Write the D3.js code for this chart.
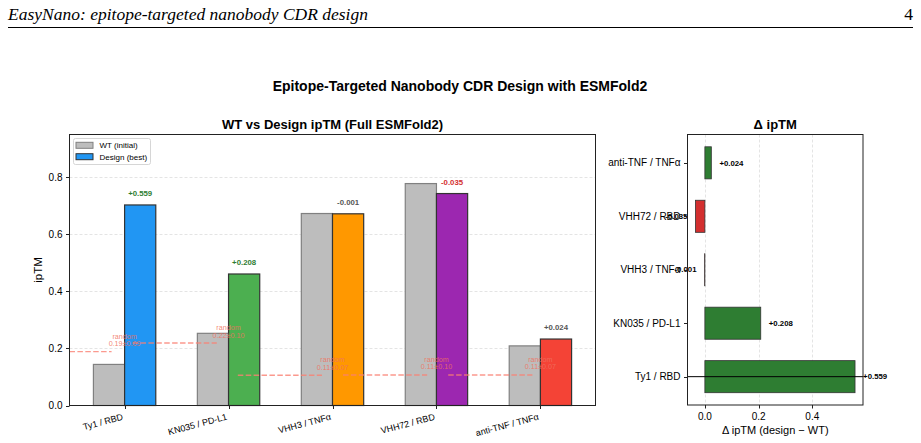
<!DOCTYPE html>
<html>
<head>
    <meta charset="utf-8">
    <style>
        body { margin: 0; background: white; }
        svg { display: block; font-family: 'Liberation Sans', Arial, sans-serif; }
    </style>
</head>
<body>
<svg width="921" height="443"></svg>

<script src="https://d3js.org/d3.v7.min.js"></script>
<script>
    // chart values
    const pairs = ["Ty1 / RBD", "KN035 / PD-L1", "VHH3 / TNFα", "VHH72 / RBD", "anti-TNF / TNFα"];
    const wtIptm = [0.144, 0.253, 0.673, 0.778, 0.209];
    const designIptm = [0.703, 0.461, 0.672, 0.743, 0.233];
    const randomMean = [0.189, 0.219, 0.106, 0.107, 0.107];
    const randomStd = [0.09, 0.10, 0.07, 0.10, 0.07];
    const designColors = ["#2196F3", "#4CAF50", "#FF9800", "#9C27B0", "#F44336"];
    const yTicks = [0.0, 0.2, 0.4, 0.6, 0.8];
    const deltaTicks = [0.0, 0.2, 0.4];

    const deltas = designIptm.map((d, i) => d - wtIptm[i]);

    let svg = d3.select("svg");

    // page header
    svg.append("text")
        .attr("x", 8).attr("y", 20)
        .style("font-family", "'Liberation Serif', serif")
        .style("font-style", "italic")
        .style("font-size", "17.5px")
        .text("EasyNano: epitope-targeted nanobody CDR design");
    svg.append("text")
        .attr("x", 913).attr("y", 20)
        .attr("text-anchor", "end")
        .style("font-family", "'Liberation Serif', serif")
        .style("font-size", "17.5px")
        .text("4");
    svg.append("line")
        .attr("x1", 8).attr("x2", 913)
        .attr("y1", 27.5).attr("y2", 27.5)
        .style("stroke", "black").style("stroke-width", 1);

    svg.append("text")
        .attr("x", 460).attr("y", 91)
        .attr("text-anchor", "middle")
        .style("font-weight", "bold").style("font-size", "14px")
        .text("Epitope-Targeted Nanobody CDR Design with ESMFold2");

    // ---------- left panel: WT vs design ----------
    const L = { left: 69.5, right: 595.5, top: 134.5, bottom: 405.5 };
    const barW = 0.3;
    let x = d3.scaleLinear()
        .domain([-barW - 0.23, pairs.length - 1 + barW + 0.23])
        .range([L.left, L.right]);
    let y = d3.scaleLinear().domain([0, 0.95]).range([L.bottom, L.top]);
    // axhline xmin/xmax are in axes fraction
    let frac = d3.scaleLinear().domain([0, 1]).range([L.left, L.right]);

    let left = svg.append("g");

    left.selectAll(".hgrid")
        .data(yTicks.slice(1))
        .join("line")
        .attr("x1", L.left).attr("x2", L.right)
        .attr("y1", d => Math.round(y(d)) + 0.5).attr("y2", d => Math.round(y(d)) + 0.5)
        .style("stroke", "#ddd").style("stroke-dasharray", "3,2").style("stroke-width", 0.8);

    left.selectAll(".wt")
        .data(wtIptm)
        .join("rect")
        .attr("x", (d, i) => x(i - barW))
        .attr("width", x(barW) - x(0))
        .attr("y", d => y(d))
        .attr("height", d => y(0) - y(d))
        .style("fill", "#bdbdbd")
        .style("stroke", "#808080")
        .style("stroke-width", 1.2);

    left.selectAll(".design")
        .data(designIptm)
        .join("rect")
        .attr("x", (d, i) => x(i))
        .attr("width", x(barW) - x(0))
        .attr("y", d => y(d))
        .attr("height", d => y(0) - y(d))
        .style("fill", (d, i) => designColors[i])
        .style("stroke", "#333")
        .style("stroke-width", 1.2);

    function deltaColor(d) {
        if (d > 0.05) return "#2e7d32";
        if (d < -0.02) return "#d32f2f";
        return "#555";
    }

    left.selectAll(".dlabel")
        .data(deltas)
        .join("text")
        .attr("x", (d, i) => x(i + barW / 2))
        .attr("y", (d, i) => y(designIptm[i]) - 9)
        .attr("text-anchor", "middle")
        .style("font-size", "7.8px").style("font-weight", "bold")
        .style("fill", d => deltaColor(d))
        .text(d => (d >= 0 ? "+" : "-") + Math.abs(d).toFixed(3));

    // random baselines
    left.selectAll(".rand")
        .data(randomMean)
        .join("line")
        .attr("x1", (d, i) => frac(Math.max(0, (i - 0.4) / pairs.length)))
        .attr("x2", (d, i) => frac((i + 0.4) / pairs.length))
        .attr("y1", d => y(d)).attr("y2", d => y(d))
        .style("stroke", "#fa8072").style("stroke-opacity", 0.8)
        .style("stroke-width", 1.4).style("stroke-dasharray", "5.5,2.4");

    let randLabels = left.selectAll(".randlabel")
        .data(randomMean)
        .join("text")
        .attr("text-anchor", "middle")
        .style("font-size", "7.2px")
        .style("fill", "#f07060").style("fill-opacity", 0.85);
    randLabels.append("tspan")
        .attr("x", (d, i) => x(i)).attr("y", d => y(d) - 13)
        .text("random");
    randLabels.append("tspan")
        .attr("x", (d, i) => x(i)).attr("y", d => y(d) - 5.5)
        .text((d, i) => d.toFixed(2) + "±" + randomStd[i].toFixed(2));

    // axes
    left.selectAll(".ytick")
        .data(yTicks)
        .join("line")
        .attr("x1", L.left - 3.5).attr("x2", L.left)
        .attr("y1", d => Math.round(y(d)) + 0.5).attr("y2", d => Math.round(y(d)) + 0.5)
        .style("stroke", "#222");
    left.selectAll(".ylab")
        .data(yTicks)
        .join("text")
        .attr("x", L.left - 7).attr("y", d => y(d))
        .attr("dy", "0.35em").attr("text-anchor", "end")
        .style("font-size", "10px")
        .text(d => d.toFixed(1));

    left.selectAll(".xtick")
        .data(pairs)
        .join("line")
        .attr("x1", (d, i) => Math.round(x(i)) + 0.5).attr("x2", (d, i) => Math.round(x(i)) + 0.5)
        .attr("y1", L.bottom).attr("y2", L.bottom + 3.5)
        .style("stroke", "#222");
    left.selectAll(".xlab")
        .data(pairs)
        .join("text")
        .attr("transform", (d, i) => `translate(${x(i) - 1},${L.bottom + 14}) rotate(-15)`)
        .attr("text-anchor", "end")
        .style("font-size", "9px")
        .text(d => d);

    left.append("rect")
        .attr("x", L.left).attr("y", L.top)
        .attr("width", L.right - L.left).attr("height", L.bottom - L.top)
        .style("fill", "none").style("stroke", "#222").style("stroke-width", 1);

    left.append("text")
        .attr("transform", `translate(42,${(L.top + L.bottom) / 2}) rotate(-90)`)
        .attr("text-anchor", "middle")
        .style("font-size", "11.5px")
        .text("ipTM");

    left.append("text")
        .attr("x", (L.left + L.right) / 2).attr("y", 129)
        .attr("text-anchor", "middle")
        .style("font-weight", "bold").style("font-size", "13px")
        .text("WT vs Design ipTM (Full ESMFold2)");

    // legend
    let legend = left.append("g");
    legend.append("rect")
        .attr("x", 73.5).attr("y", 138.5).attr("width", 77).attr("height", 26).attr("rx", 2)
        .style("fill", "white").style("fill-opacity", 0.8)
        .style("stroke", "#ccc").style("stroke-width", 0.8);
    const legendItems = [["WT (initial)", "#bdbdbd", "#808080"], ["Design (best)", designColors[0], "#333"]];
    legendItems.forEach((item, k) => {
        let cy = 145.3 + k * 11.4;
        legend.append("rect")
            .attr("x", 76).attr("y", cy - 3).attr("width", 17).attr("height", 6)
            .style("fill", item[1]).style("stroke", item[2]).style("stroke-width", 1);
        legend.append("text")
            .attr("x", 99.5).attr("y", cy).attr("dy", "0.35em")
            .style("font-size", "8px")
            .text(item[0]);
    });

    // ---------- right panel: delta ipTM ----------
    const R = { left: 687.5, right: 863, top: 134.5, bottom: 405 };
    let dMin = d3.min(deltas), dMax = d3.max(deltas);
    let pad = (dMax - dMin) * 0.05;
    let xr = d3.scaleLinear().domain([dMin - pad, dMax + pad]).range([R.left, R.right]);
    let yr = d3.scaleLinear().domain([-0.53, pairs.length - 1 + 0.53]).range([R.bottom, R.top]);
    const hBar = 0.6;

    let right = svg.append("g");

    right.selectAll(".vgrid")
        .data(deltaTicks)
        .join("line")
        .attr("x1", d => Math.round(xr(d)) + 0.5).attr("x2", d => Math.round(xr(d)) + 0.5)
        .attr("y1", R.top).attr("y2", R.bottom)
        .style("stroke", "#ddd").style("stroke-dasharray", "3,2").style("stroke-width", 0.8);

    right.selectAll(".dbar")
        .data(deltas)
        .join("rect")
        .attr("x", d => xr(Math.min(0, d)))
        .attr("width", d => Math.abs(xr(d) - xr(0)))
        .attr("y", (d, i) => yr(i + hBar / 2))
        .attr("height", yr(0) - yr(hBar))
        .style("fill", d => d > 0 ? "#2e7d32" : "#d32f2f")
        .style("stroke", "#333")
        .style("stroke-width", 0.8);

    right.append("line")
        .attr("x1", R.left).attr("x2", R.right)
        .attr("y1", yr(0)).attr("y2", yr(0))
        .style("stroke", "black").style("stroke-width", 1);

    right.selectAll(".dval")
        .data(deltas)
        .join("text")
        .attr("x", d => xr(d + (d >= 0 ? 0.03 : -0.03)))
        .attr("y", (d, i) => yr(i))
        .attr("dy", "0.35em")
        .attr("text-anchor", d => d >= 0 ? "start" : "end")
        .style("font-size", "7.8px").style("font-weight", "bold")
        .text(d => (d >= 0 ? "+" : "-") + Math.abs(d).toFixed(3));

    right.selectAll(".ytick")
        .data(pairs)
        .join("line")
        .attr("x1", R.left - 3.5).attr("x2", R.left)
        .attr("y1", (d, i) => Math.round(yr(i)) + 0.5).attr("y2", (d, i) => Math.round(yr(i)) + 0.5)
        .style("stroke", "#222");
    right.selectAll(".ylab")
        .data(pairs)
        .join("text")
        .attr("x", R.left - 7).attr("y", (d, i) => yr(i))
        .attr("dy", "0.35em").attr("text-anchor", "end")
        .style("font-size", "10px")
        .text(d => d);

    right.selectAll(".xtick")
        .data(deltaTicks)
        .join("line")
        .attr("x1", d => Math.round(xr(d)) + 0.5).attr("x2", d => Math.round(xr(d)) + 0.5)
        .attr("y1", R.bottom).attr("y2", R.bottom + 3.5)
        .style("stroke", "#222");
    right.selectAll(".xlab")
        .data(deltaTicks)
        .join("text")
        .attr("x", d => xr(d)).attr("y", 420)
        .attr("text-anchor", "middle")
        .style("font-size", "10px")
        .text(d => d.toFixed(1));

    right.append("rect")
        .attr("x", R.left).attr("y", R.top)
        .attr("width", R.right - R.left).attr("height", R.bottom - R.top)
        .style("fill", "none").style("stroke", "#222").style("stroke-width", 1);

    right.append("text")
        .attr("x", (R.left + R.right) / 2).attr("y", 434)
        .attr("text-anchor", "middle")
        .style("font-size", "11px")
        .text("Δ ipTM (design − WT)");

    right.append("text")
        .attr("x", (R.left + R.right) / 2).attr("y", 129)
        .attr("text-anchor", "middle")
        .style("font-weight", "bold").style("font-size", "13px")
        .text("Δ ipTM");
</script>
</body>
</html>
